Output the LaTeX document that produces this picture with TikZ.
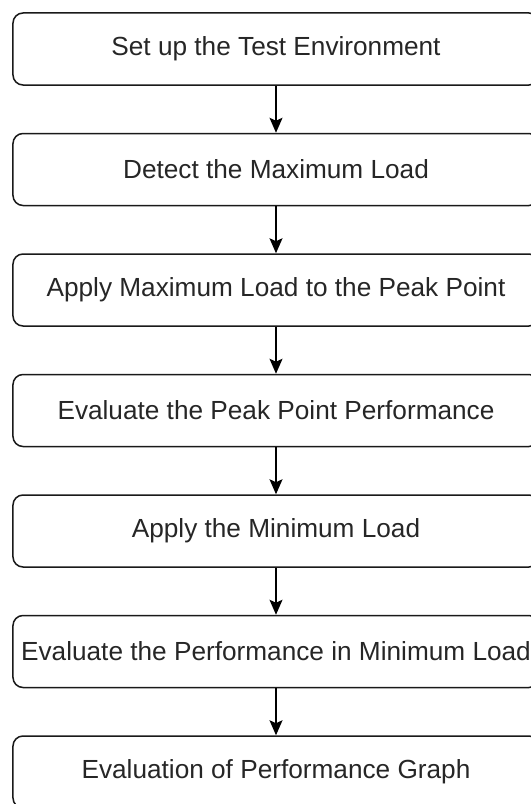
\documentclass[tikz,border=0pt]{standalone}
\usepackage{fontspec}
\setmainfont{Liberation Sans}
\usepackage{tikz}
\usetikzlibrary{arrows.meta}
\tikzset{
	stepbox/.style={draw=black!90, line width=1.5bp, rounded corners=10bp, minimum width=526bp, minimum height=72bp, inner xsep=1bp, text=black!85, font=\fontsize{26.2bp}{30bp}\selectfont},
	flowarrow/.style={line width=1.5bp, draw=black, -{Stealth[length=15bp, width=13bp, inset=3bp]}}
}

\begin{document}
\begin{tikzpicture}[x=1bp, y=-1bp]
		%%%%% START %%%%%
		\useasboundingbox (0, 0) rectangle (531, 804);
		
		\node[stepbox] (setup) at (276, 49) {Set up the Test Environment};
		\node[stepbox] (detect) at (276, 169.5) {Detect the Maximum Load};
		\node[stepbox] (applymax) at (276, 290) {Apply Maximum Load to the Peak Point};
		\node[stepbox] (evalpeak) at (276, 410.5) {Evaluate the Peak Point Performance};
		\node[stepbox] (applymin) at (276, 531) {Apply the Minimum Load};
		\node[stepbox] (evalmin) at (276, 651.5) {Evaluate the Performance in Minimum Load};
		\node[stepbox] (graph) at (276, 772) {Evaluation of Performance Graph};
		
		\draw[flowarrow] (setup) -- (detect);
		\draw[flowarrow] (detect) -- (applymax);
		\draw[flowarrow] (applymax) -- (evalpeak);
		\draw[flowarrow] (evalpeak) -- (applymin);
		\draw[flowarrow] (applymin) -- (evalmin);
		\draw[flowarrow] (evalmin) -- (graph);
		%%%%% END %%%%%
	\end{tikzpicture}
\end{document}
